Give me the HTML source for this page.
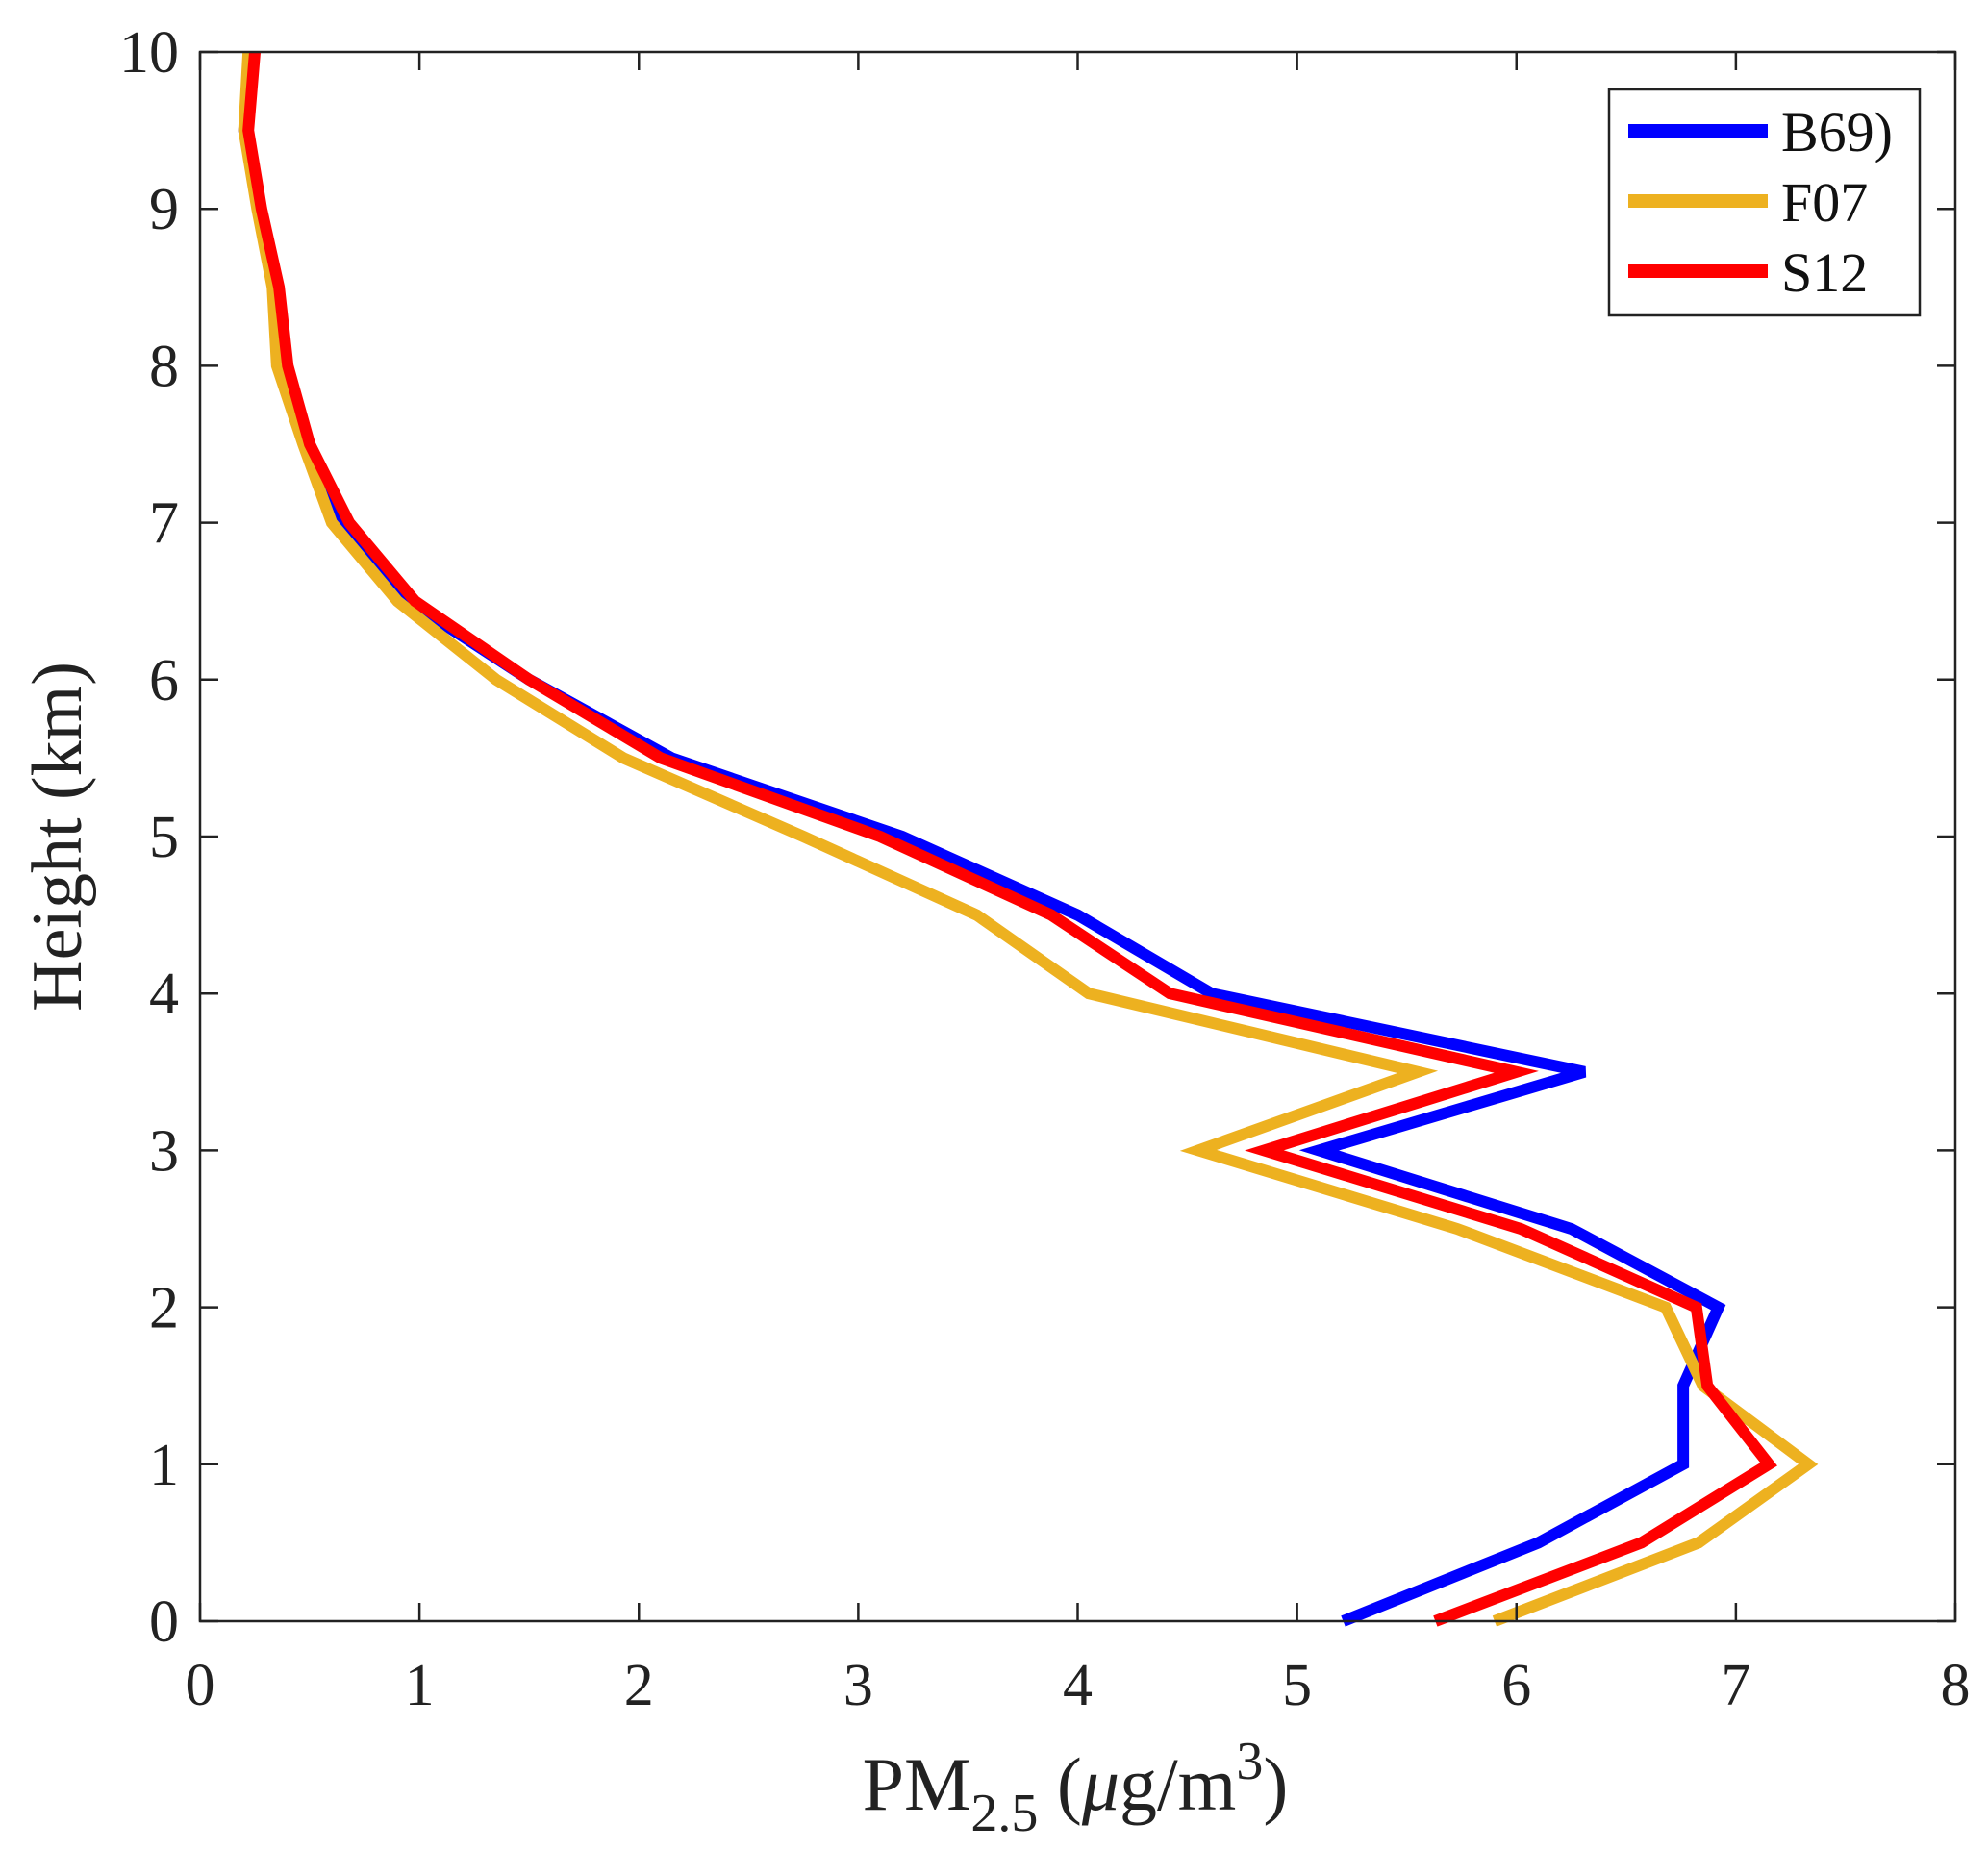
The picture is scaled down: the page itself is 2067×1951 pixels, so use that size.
<!DOCTYPE html>
<html><head><meta charset="utf-8"><style>
html,body{margin:0;padding:0;background:#fff;}
svg{display:block;font-family:"Liberation Serif","Times New Roman",serif;}
</style></head><body>
<svg id="chart" width="2067" height="1951" viewBox="0 0 2067 1951">
<g id="marks"></g>
<g id="axes"></g>
<text x="1118" y="1882" text-anchor="middle" font-size="78" fill="#222">PM<tspan font-size="56" dy="22">2.5</tspan><tspan dy="-22"> (</tspan><tspan font-style="italic">μ</tspan>g/m<tspan font-size="56" dy="-32">3</tspan><tspan dy="32">)</tspan></text>
<text transform="translate(84,870) rotate(-90)" text-anchor="middle" font-size="74" fill="#222">Height (km)</text>
<g>
<rect x="1673" y="93" width="323" height="235" fill="#fff" stroke="#222" stroke-width="2.5"/>
<line x1="1693" y1="136" x2="1838" y2="136" stroke="#0000ff" stroke-width="14"/>
<text x="1852" y="157" font-size="58" fill="#111">B69)</text>
<line x1="1693" y1="209" x2="1838" y2="209" stroke="#edb120" stroke-width="14"/>
<text x="1852" y="230" font-size="58" fill="#111">F07</text>
<line x1="1693" y1="282" x2="1838" y2="282" stroke="#ff0000" stroke-width="14"/>
<text x="1852" y="303" font-size="58" fill="#111">S12</text>
</g>
</svg>
<script>
const heights=[0,0.5,1,1.5,2,2.5,3,3.5,4,4.5,5,5.5,6,6.5,7,7.5,8,8.5,9,9.5,10];
const b69=[5.21,6.1,6.76,6.76,6.92,6.25,5.1,6.31,4.61,4.0,3.2,2.15,1.5,0.95,0.65,0.5,0.38,0.35,0.27,0.2,0.24];
const f07=[5.9,6.83,7.33,6.85,6.68,5.73,4.55,5.55,4.05,3.54,2.75,1.93,1.35,0.9,0.6,0.47,0.35,0.33,0.26,0.2,0.22];
const s12=[5.63,6.57,7.15,6.87,6.82,6.02,4.85,6.0,4.42,3.88,3.1,2.1,1.5,0.98,0.68,0.5,0.4,0.36,0.28,0.22,0.25];
const xTicks=[0,1,2,3,4,5,6,7,8];
const yTicks=[0,1,2,3,4,5,6,7,8,9,10];
const L=208,R=2033,T=54,B=1686;
const sx=v=>L+(v-0)/(8-0)*(R-L);
const sy=v=>B-(v-0)/(10-0)*(B-T);
const NS='http://www.w3.org/2000/svg';
const marks=document.getElementById('marks'),axes=document.getElementById('axes');
function mk(tag,attrs,parent){const e=document.createElementNS(NS,tag);for(const k in attrs)e.setAttribute(k,attrs[k]);parent.appendChild(e);return e;}
const series=[['b69',b69,'#0000ff'],['f07',f07,'#edb120'],['s12',s12,'#ff0000']];
series.forEach(([n,d,c])=>{
 const p=mk('polyline',{points:d.map((v,i)=>sx(v)+','+sy(heights[i])).join(' '),fill:'none',stroke:c,'stroke-width':12,'stroke-linejoin':'miter'},marks);
 
 
});
const frame=mk('rect',{x:L,y:T,width:R-L,height:B-T,fill:'none',stroke:'#222','stroke-width':2.5},axes);


xTicks.forEach(t=>{
 const x=sx(t);
 mk('line',{x1:x,y1:B,x2:x,y2:B-19,stroke:'#222','stroke-width':2.5},axes);
 mk('line',{x1:x,y1:T,x2:x,y2:T+19,stroke:'#222','stroke-width':2.5},axes);
 const tx=mk('text',{x:x,y:1773,'text-anchor':'middle','font-size':62,fill:'#222'},axes);
 tx.textContent=t;
 
 
});
yTicks.forEach(t=>{
 const y=sy(t);
 mk('line',{x1:L,y1:y,x2:L+19,y2:y,stroke:'#222','stroke-width':2.5},axes);
 mk('line',{x1:R,y1:y,x2:R-19,y2:y,stroke:'#222','stroke-width':2.5},axes);
 const tx=mk('text',{x:186,y:y+21,'text-anchor':'end','font-size':62,fill:'#222'},axes);
 tx.textContent=t;
 
 
});
</script>
</body></html>
